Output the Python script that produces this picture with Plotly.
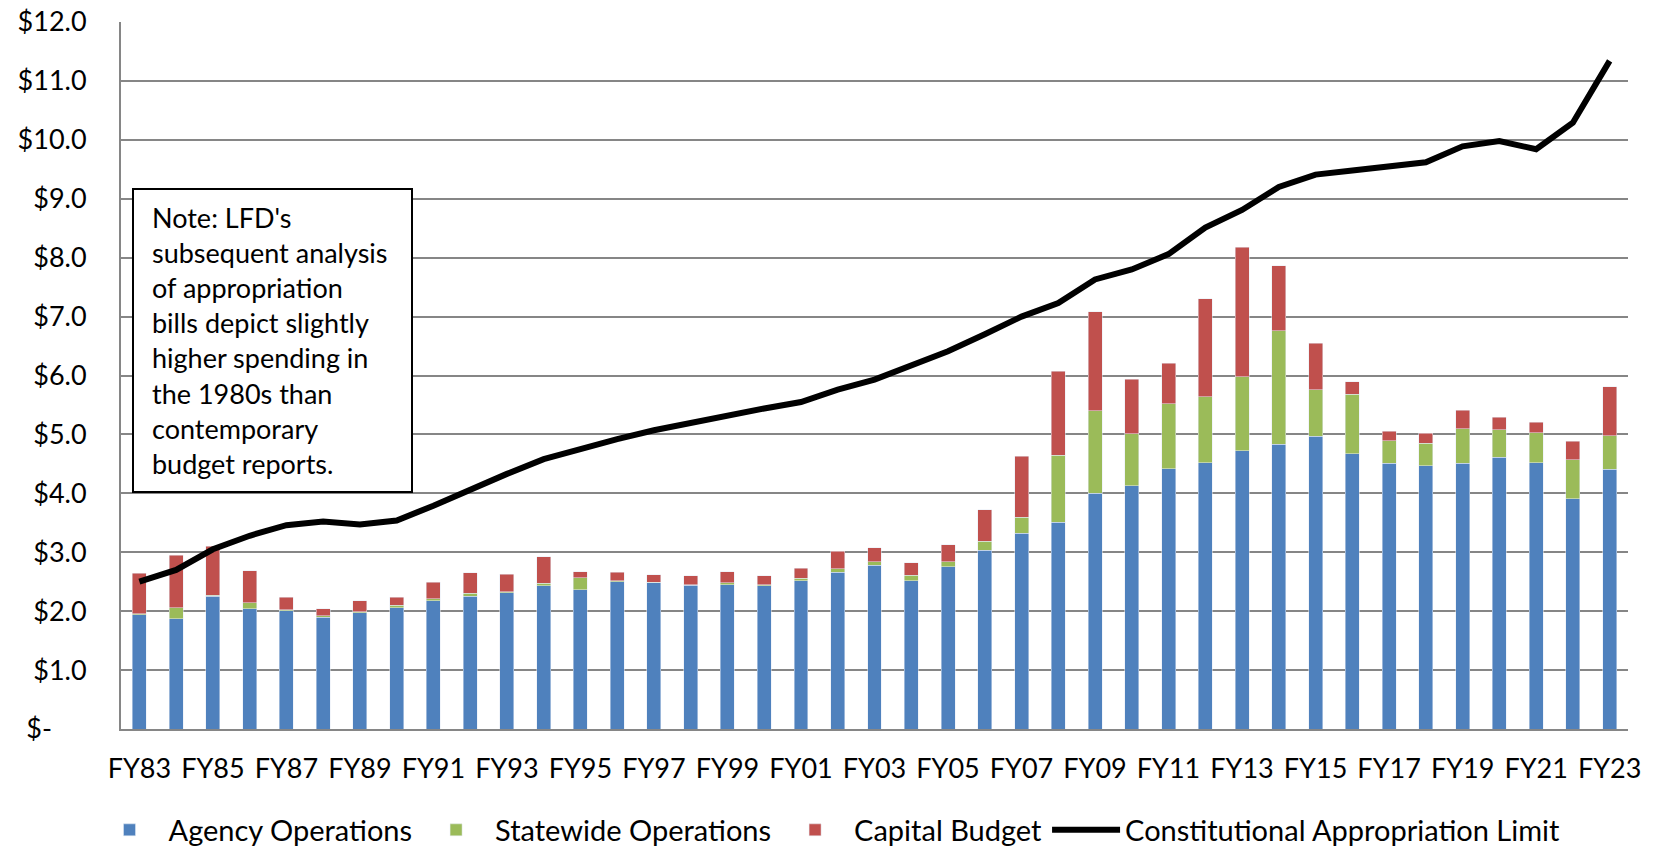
import plotly.graph_objects as go

years = ["FY83","FY84","FY85","FY86","FY87","FY88","FY89","FY90","FY91","FY92",
         "FY93","FY94","FY95","FY96","FY97","FY98","FY99","FY00","FY01","FY02",
         "FY03","FY04","FY05","FY06","FY07","FY08","FY09","FY10","FY11","FY12",
         "FY13","FY14","FY15","FY16","FY17","FY18","FY19","FY20","FY21","FY22","FY23"]

agency = [1.94,1.87,2.25,2.04,2.01,1.90,1.97,2.06,2.18,2.25,
          2.31,2.43,2.36,2.50,2.48,2.44,2.45,2.43,2.52,2.66,
          2.78,2.52,2.75,3.03,3.32,3.51,4.00,4.13,4.42,4.52,
          4.72,4.83,4.97,4.67,4.51,4.47,4.51,4.61,4.52,3.91,4.41]

statewide = [0.02,0.19,0.02,0.10,0.01,0.02,0.02,0.04,0.03,0.05,
             0.02,0.04,0.21,0.02,0.01,0.01,0.03,0.02,0.04,0.06,
             0.06,0.09,0.09,0.16,0.27,1.14,1.40,0.88,1.10,1.12,
             1.26,1.93,0.79,1.01,0.38,0.38,0.59,0.47,0.51,0.66,0.57]

capital = [0.68,0.89,0.83,0.55,0.22,0.12,0.19,0.14,0.28,0.35,
           0.30,0.45,0.10,0.14,0.13,0.15,0.19,0.15,0.17,0.30,
           0.24,0.21,0.29,0.53,1.04,1.42,1.68,0.93,0.69,1.66,
           2.20,1.10,0.79,0.21,0.16,0.17,0.31,0.21,0.18,0.31,0.83]

limit = [2.50,2.70,3.05,3.28,3.46,3.52,3.47,3.54,3.79,4.07,
         4.33,4.58,4.76,4.92,5.07,5.20,5.32,5.44,5.55,5.76,
         5.93,6.16,6.41,6.70,7.00,7.23,7.63,7.80,8.06,8.51,
         8.81,9.20,9.41,9.48,9.54,9.62,9.89,9.98,9.84,10.29,11.34]

y_ticks = [0,1,2,3,4,5,6,7,8,9,10,11,12]
y_labels = ["$-\u00a0\u00a0\u00a0\u00a0\u00a0"] + ["$%.1f" % v for v in y_ticks[1:]]

note = ("Note: LFD's<br>subsequent analysis<br>of appropriation<br>bills depict slightly"
        "<br>higher spending in<br>the 1980s than<br>contemporary<br>budget reports.")

FONT = "Lato"
fig = go.Figure()
fig.add_bar(x=years, y=agency, name="Agency Operations", marker_color="#4F81BD")
fig.add_bar(x=years, y=statewide, name="Statewide Operations", marker_color="#9BBB59")
fig.add_bar(x=years, y=capital, name="Capital Budget", marker_color="#C0504D")
fig.add_scatter(x=years, y=limit, name="Constitutional Appropriation Limit",
                mode="lines", line=dict(color="black", width=6))

W, H = 1655, 849
L, R, T, B = 121, 27, 22, 120
pw, ph = W - L - R, H - T - B

def px(x):
    return (x - L) / pw

def py(y):
    return (H - B - y) / ph

fig.update_layout(
    width=W, height=H,
    margin=dict(l=L, r=R, t=T, b=B, autoexpand=False),
    barmode="stack", bargap=0.62,
    plot_bgcolor="white", paper_bgcolor="white",
    font=dict(family=FONT, size=27, color="black"),
    showlegend=True,
    legend=dict(orientation="h", x=px(828), xanchor="center", y=py(830), yanchor="middle",
                font=dict(size=29), itemwidth=68, tracegroupgap=0,
                traceorder="normal"),
    xaxis=dict(type="category", tickvals=years[::2], ticktext=years[::2],
               showgrid=False, showline=True, linecolor="#868686", linewidth=2,
               ticks="", tickfont=dict(size=27), ticklabelstandoff=15, automargin=False),
    yaxis=dict(range=[0, 12], tickvals=y_ticks, ticktext=y_labels,
               showgrid=True, gridcolor="#868686", gridwidth=2,
               showline=True, linecolor="#868686", linewidth=2,
               zeroline=False, ticks="", tickfont=dict(size=27), ticklabelstandoff=27,
               automargin=False),
    shapes=[dict(type="rect", xref="paper", yref="paper",
                 x0=px(133), x1=px(412), y0=py(492), y1=py(189),
                 line=dict(color="black", width=2), fillcolor="white", layer="above")],
    annotations=[dict(text=note, xref="paper", yref="paper", x=px(150), y=py(199),
                      xanchor="left", yanchor="top", align="left", showarrow=False,
                      font=dict(size=27, family=FONT))],
)

fig.write_html("out.html", config={"displayModeBar": False},
               post_script="document.body.style.margin='0';")
